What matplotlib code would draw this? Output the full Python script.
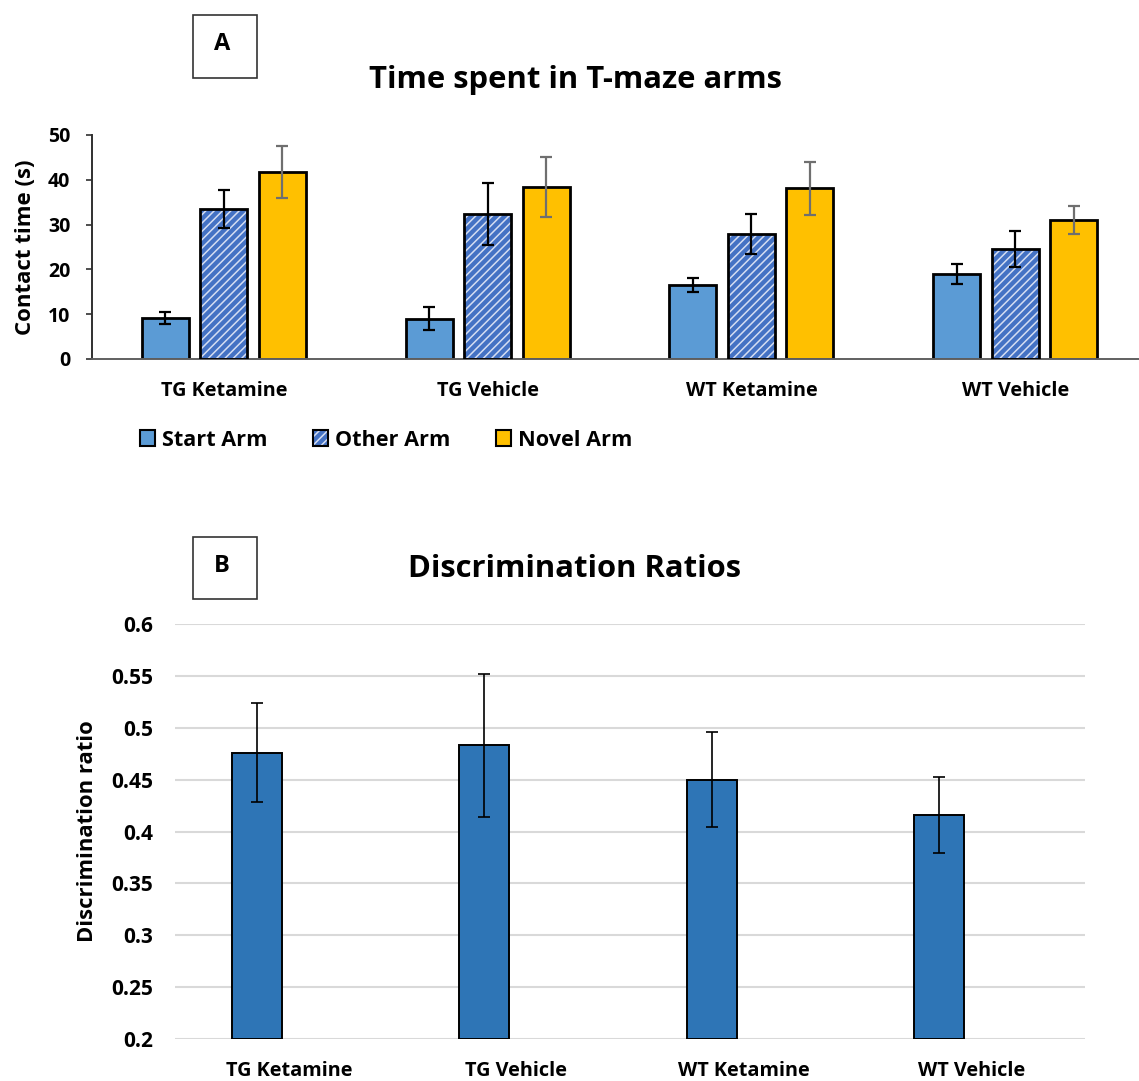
import matplotlib.pyplot as plt
from matplotlib.patches import Rectangle, Patch
import numpy as np

plt.rcParams["font.family"] = ["Open Sans", "DejaVu Sans"]
plt.rcParams["font.weight"] = "bold"
plt.rcParams["hatch.linewidth"] = 1.1

groups = ["TG Ketamine", "TG Vehicle", "WT Ketamine", "WT Vehicle"]

# panel A: time spent in arms (s)
start_arm = [9.2, 9.0, 16.5, 19.0]
start_err = [1.3, 2.6, 1.5, 2.3]
other_arm = [33.5, 32.3, 27.9, 24.5]
other_err = [4.3, 6.9, 4.4, 4.0]
novel_arm = [41.7, 38.5, 38.1, 31.0]
novel_err = [5.8, 6.7, 5.9, 3.2]

# panel B: discrimination ratios
ratio = [0.476, 0.483, 0.450, 0.416]
ratio_err = [0.048, 0.069, 0.046, 0.037]

fig = plt.figure(figsize=(11.39, 10.81), dpi=100)
W, H = 1139, 1081


def ax_at(x0, y0, x1, y1):
    return fig.add_axes([x0 / W, 1 - y1 / H, (x1 - x0) / W, (y1 - y0) / H])


# ---------- Panel A ----------
ax = ax_at(92, 135, 1147, 359)
x = np.arange(len(groups))
bw = 0.178
off = 0.222
blue = "#5B9BD5"
hatch_blue = "#4472C4"
gold = "#FFC000"

ax.bar(x - off, start_arm, bw, color=blue, edgecolor="black", linewidth=2, zorder=2)
# hatched bar: fill + light hatch, then black outline on top
ax.bar(x, other_arm, bw, color=hatch_blue, edgecolor="#d5def2", hatch="////", linewidth=0, zorder=2)
ax.bar(x, other_arm, bw, color="none", edgecolor="black", linewidth=2, zorder=3)
ax.bar(x + off, novel_arm, bw, color=gold, edgecolor="black", linewidth=2, zorder=2)

eb = dict(fmt="none", elinewidth=1.6, capsize=4.3, capthick=1.6, zorder=4)
ax.errorbar(x - off, start_arm, yerr=start_err, ecolor="black", **eb)
ax.errorbar(x, other_arm, yerr=other_err, ecolor="black", **eb)
ax.errorbar(x + off, novel_arm, yerr=novel_err, ecolor="#6f6f6f", **eb)

ax.set_xlim(-0.5, 3.5)
ax.set_ylim(0, 50)
ax.set_yticks(range(0, 51, 10))
ax.set_xticks(x)
ax.set_xticklabels(groups, fontsize=14.3, fontweight="bold")
ax.tick_params(axis="y", labelsize=14, length=4.5, width=1.3, color="#404040", pad=11)
ax.tick_params(axis="x", length=0, pad=16)
for s in ["top", "right"]:
    ax.spines[s].set_visible(False)
ax.spines["left"].set_color("#303030")
ax.spines["bottom"].set_color("#606060")
for s in ["left", "bottom"]:
    ax.spines[s].set_linewidth(1.4)
ax.set_ylabel("Contact time (s)", fontsize=16, fontweight="bold")
ax.yaxis.set_label_coords(-0.053, 0.5)

fig.text(575 / W, 1 - 80 / H, "Time spent in T-maze arms", ha="center", va="center",
         fontsize=22.3, fontweight="bold")
fig.patches.append(Rectangle((193 / W, 1 - 78 / H), 64 / W, 63 / H, transform=fig.transFigure,
                             facecolor="white", edgecolor="#333333", linewidth=1.2))
fig.text(222 / W, 1 - 44 / H, "A", ha="center", va="center", fontsize=17, fontweight="bold")

h_start = Patch(facecolor=blue, edgecolor="black", linewidth=1.5)
h_other = (Patch(facecolor=hatch_blue, edgecolor="#d5def2", hatch="////", linewidth=0),
           Patch(facecolor="none", edgecolor="black", linewidth=1.5))
h_novel = Patch(facecolor=gold, edgecolor="black", linewidth=1.5)
fig.legend([h_start, h_other, h_novel], ["Start Arm", "Other Arm", "Novel Arm"],
           loc="center left", bbox_to_anchor=(131 / W, 1 - 440 / H), ncol=3,
           frameon=False, handlelength=0.7, handleheight=0.7, handletextpad=0.32,
           columnspacing=2.1, borderaxespad=0, prop={"weight": "bold", "size": 15.6})

# ---------- Panel B ----------
bx = ax_at(175, 624, 1085, 1039)
xb = np.arange(len(groups))
shift = 0.14  # bars sit left of the category centre
bx.bar(xb - shift, [r - 0.2 for r in ratio], 0.22, bottom=0.2, color="#2E75B6", edgecolor="black",
       linewidth=1.4, zorder=2)
bx.errorbar(xb - shift, ratio, yerr=ratio_err, fmt="none", ecolor="black", elinewidth=1.2,
            capsize=4.3, capthick=1.2, zorder=3)
bx.set_xlim(-0.5, 3.5)
bx.set_ylim(0.2, 0.6)
yt = [0.2, 0.25, 0.3, 0.35, 0.4, 0.45, 0.5, 0.55, 0.6]
bx.set_yticks(yt)
bx.set_yticklabels([f"{v:g}" for v in yt])
bx.yaxis.grid(True, color="#d9d9d9", linewidth=1.5, zorder=0)
bx.set_axisbelow(True)
bx.set_xticks(xb)
bx.set_xticklabels(groups, fontsize=14.3, fontweight="bold")
bx.tick_params(axis="y", labelsize=15, length=0, pad=16)
bx.tick_params(axis="x", length=0, pad=16)
for s in bx.spines.values():
    s.set_visible(False)
bx.set_ylabel("Discrimination ratio", fontsize=15.8, fontweight="bold")
bx.yaxis.set_label_coords(-0.085, 0.5)

fig.text(575 / W, 1 - 569 / H, "Discrimination Ratios", ha="center", va="center",
         fontsize=22.3, fontweight="bold")
fig.patches.append(Rectangle((193 / W, 1 - 599 / H), 64 / W, 62 / H, transform=fig.transFigure,
                             facecolor="white", edgecolor="#333333", linewidth=1.2))
fig.text(222 / W, 1 - 566 / H, "B", ha="center", va="center", fontsize=17, fontweight="bold")

fig.savefig("out.png", dpi=100)
